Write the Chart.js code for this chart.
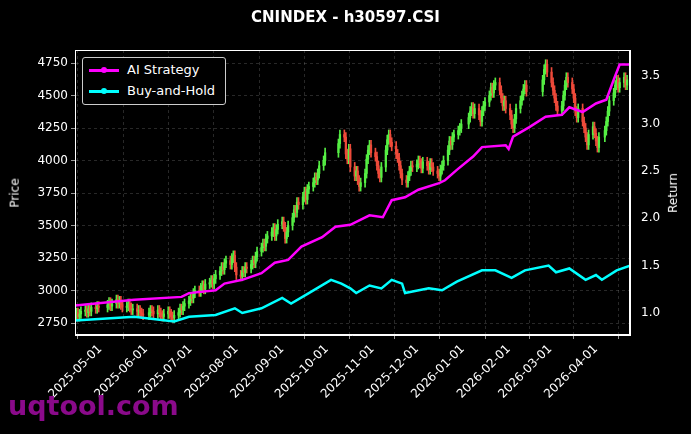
<!DOCTYPE html>
<html>
<head>
<meta charset="utf-8">
<script src="https://cdn.jsdelivr.net/npm/chart.js@4.4.1/dist/chart.umd.min.js"></script>
<style>
  body { margin: 0; background: #000; font-family: "DejaVu Sans", sans-serif; }
  #wrap { position: relative; width: 691px; height: 434px; }
  #title { position: absolute; top: 8px; left: 0; width: 691px; text-align: center; color: #fff; font-weight: bold; font-size: 15px; }
  #legend { position: absolute; left: 82px; top: 57px; width: 142px; height: 46px; border: 1px solid #ccc; border-radius: 3px; background: #000; color: #fff; font-size: 13px; }
  .item { position: absolute; left: 6px; height: 18px; line-height: 18px; }
  .sw { display: inline-block; width: 30px; height: 3px; vertical-align: middle; position: relative; margin-right: 8px; }
  .sw i { position: absolute; left: 12px; top: -2px; width: 6px; height: 6px; border-radius: 3px; background: inherit; }
  .ax { position: absolute; color: #fff; font-size: 12px; transform: rotate(-90deg); transform-origin: center; white-space: nowrap; }
  #mark { position: absolute; left: 8px; top: 390px; color: #8a0a8a; font-weight: bold; font-size: 27px; }
</style>
</head>
<body>
<div id="wrap">
  <canvas id="c" width="691" height="434"></canvas>
  <div id="title">CNINDEX - h30597.CSI</div>
  <div id="legend">
    <div class="item" style="top:3px"><span class="sw" style="background:#ff00ff"><i></i></span>AI Strategy</div>
    <div class="item" style="top:24px"><span class="sw" style="background:#00ffff"><i></i></span>Buy-and-Hold</div>
  </div>
  <div class="ax" style="left:0px; top:186px;">Price</div>
  <div class="ax" style="left:653px; top:186px;">Return</div>
  <div id="mark">uqtool.com</div>
</div>
<script>
// day 0 = 2025-04-14
const holidays = ['2025-05-01','2025-05-02','2025-05-05','2025-06-02','2025-10-01','2025-10-02','2025-10-03','2025-10-06','2025-10-07','2025-10-08',
  '2026-01-01','2026-01-02','2026-02-16','2026-02-17','2026-02-18','2026-02-19','2026-02-20','2026-02-23','2026-04-06'];

// daily closes, in trading-day order
const closes = [
  2810,2830,2800,2820,2840, 2850,2830,2860,2840,2870, 2860,2880,2870, 2890,2910,2880,2900,
  2930,2900,2920,2890,2870, 2880,2900,2870,2850,2860, 2840,2850,2830,2820,2810, 2830,2850,2840,2820,
  2850,2830,2810,2800,2820, 2840,2820,2800,2790,2810, 2830,2860,2850,2880,2900, 2920,2950,2940,2980,3000,
  2990,3020,3040,3010,3050, 3060,3080,3050,3090,3120, 3150,3180,3160,3210,3230, 3200,3250,3270,3180,3120,
  3110,3150,3140,3180,3170, 3200,3230,3210,3260,3300, 3330,3360,3340,3400,3420, 3450,3480,3420,3470,3510,
  3530,3490,3400,3450,3500, 3560,3620,3600,3680,3660, 3720,3760,3700,3780,3800, 3830,3870,3850,3900,3960,
  4000,4060, 4130,4200, 4180,4050,4010,4090,3950, 3880,3920,3850,3800,3830, 3900,4010,4080,4120,4060,
  4030,3960,3900,3870,3950, 4080,4160,4200,4140,4110, 4050,4020,3960,3900,3850, 3830,3880,3920,3960,3950,
  3970,4000,3980,3940,3990, 3960,3930,3980,3950,3920, 3900,3880,3930,3960,4000, 4080,4150,4120,4180,4200,
  4230,4250,4280, 4330,4380,4410,4360,4400, 4350,4300,4380,4420,4450, 4500,4560,4520,4580,4600,
  4540,4480,4420,4460,4400, 4350,4280,4250,4320,4400, 4460,4500,4550,4580,4530, 4620,4700,4740,4680,
  4600,4540,4480,4420,4380, 4420,4500,4580,4640,4600, 4550,4480,4380,4330,4400, 4300,4250,4180,4120,4200,
  4260,4210,4150,4100,4180, 4230,4300,4380,4460, 4520,4580,4620,4560,4600, 4640,4580,4620
];
const firstOpen = 2790;
const wick = 35;

// returns: [day, value]
const aiDays = [0,40,72,77,95,101,113,126,135,144,153,167,176,186,199,208,214,223,232,246,250,258,269,275,291,293,296,307,318,329,334,343,352,359,364,368,375];
const aiVals = [1.08,1.14,1.17,1.21,1.24,1.31,1.35,1.42,1.53,1.56,1.70,1.80,1.91,1.93,2.03,2.01,2.19,2.22,2.30,2.37,2.40,2.51,2.65,2.75,2.77,2.73,2.86,2.96,3.07,3.09,3.17,3.12,3.21,3.25,3.46,3.62,3.62];
const bhDays = [0,40,67,77,95,108,113,126,140,146,158,173,180,186,190,199,207,214,221,223,239,248,258,275,284,295,304,320,325,334,345,352,356,366,375];
const bhVals = [0.92,0.96,0.91,0.96,0.98,1.05,1.00,1.05,1.16,1.10,1.21,1.35,1.31,1.26,1.21,1.29,1.26,1.35,1.31,1.21,1.26,1.24,1.33,1.45,1.45,1.37,1.45,1.50,1.43,1.47,1.35,1.40,1.35,1.45,1.50];

const monthTicks = ['2025-05-01','2025-06-01','2025-07-01','2025-08-01','2025-09-01','2025-10-01','2025-11-01','2025-12-01','2026-01-01','2026-02-01','2026-03-01','2026-04-01'];
const priceTicks = [2750,3000,3250,3500,3750,4000,4250,4500,4750];
const returnTicks = [1.0,1.5,2.0,2.5,3.0,3.5];

const dayNum = s => {
  const [y, m, dd] = s.split('-').map(Number);
  return Math.round((Date.UTC(y, m - 1, dd) - Date.UTC(2025, 3, 14)) / 86400000);
};

// lay candles on trading days
const wicks = [], bodies = [];
let d = 0, prev = firstOpen;
for (let i = 0; i < closes.length; d++) {
  const dt = new Date(Date.UTC(2025, 3, 14 + d));
  const iso = dt.toISOString().slice(0, 10);
  const wd = dt.getUTCDay();
  if (wd === 0 || wd === 6 || holidays.includes(iso)) continue;
  const o = prev, c = closes[i];
  const up = c >= o;
  wicks.push({ x: d, y: [Math.min(o, c) - wick, Math.max(o, c) + wick], up });
  bodies.push({ x: d, y: [o, c], up });
  prev = c; i++;
}

const UP = '#55ee44', DOWN = '#ee4a3a';
const gridOpts = { color: 'rgba(150,150,150,0.45)', lineWidth: 0.6, tickColor: '#fff', tickLength: 4 };
const tickFont = { family: 'DejaVu Sans', size: 12 };

new Chart(document.getElementById('c'), {
  data: {
    datasets: [
      { type: 'bar', data: wicks, yAxisID: 'y', barThickness: 1, grouped: false,
        backgroundColor: ctx => ctx.raw && ctx.raw.up ? UP : DOWN, order: 3 },
      { type: 'bar', data: bodies, yAxisID: 'y', barThickness: 1.6, grouped: false, minBarLength: 1,
        backgroundColor: ctx => ctx.raw && ctx.raw.up ? UP : DOWN, order: 2 },
      { type: 'line', data: aiDays.map((x, i) => ({ x, y: aiVals[i] })), yAxisID: 'y2',
        borderColor: '#ff00ff', borderWidth: 2.5, pointRadius: 0, order: 1 },
      { type: 'line', data: bhDays.map((x, i) => ({ x, y: bhVals[i] })), yAxisID: 'y2',
        borderColor: '#00ffff', borderWidth: 2.5, pointRadius: 0, order: 0 }
    ]
  },
  options: {
    responsive: false,
    animation: false,
    devicePixelRatio: 1,
    layout: { padding: { top: 50, left: 0, right: 0, bottom: 0 } },
    plugins: { legend: { display: false }, tooltip: { enabled: false } },
    scales: {
      x: {
        type: 'linear', min: 0, max: 375, offset: false,
        grid: { ...gridOpts },
        border: { color: '#fff', dash: [3, 3] },
        afterBuildTicks: s => { s.ticks = monthTicks.map(m => ({ value: dayNum(m) })); },
        afterFit: s => { s.height = 99; },
        ticks: { color: '#fff', font: tickFont, minRotation: 45, maxRotation: 45, autoSkip: false,
          callback: v => monthTicks.find(m => dayNum(m) === v) || '' }
      },
      y: {
        position: 'left', min: 2658, max: 4850,
        grid: { ...gridOpts },
        border: { color: '#fff', dash: [3, 3] },
        afterBuildTicks: s => { s.ticks = priceTicks.map(v => ({ value: v })); },
        afterFit: s => { s.width = 75; },
        ticks: { color: '#fff', font: tickFont, callback: v => String(v) }
      },
      y2: {
        position: 'right', min: 0.768, max: 3.774,
        grid: { display: false },
        border: { color: '#fff' },
        afterBuildTicks: s => { s.ticks = returnTicks.map(v => ({ value: v })); },
        afterFit: s => { s.width = 61; },
        ticks: { color: '#fff', font: tickFont, callback: v => v.toFixed(1) }
      }
    }
  },
  plugins: [{
    id: 'frame',
    afterDraw(chart) {
      const { ctx, chartArea: a } = chart;
      ctx.save(); ctx.strokeStyle = '#fff'; ctx.lineWidth = 1;
      ctx.strokeRect(a.left + 0.5, a.top + 0.5, a.right - a.left - 1, a.bottom - a.top - 1);
      ctx.restore();
    }
  }]
});
</script>
</body>
</html>
